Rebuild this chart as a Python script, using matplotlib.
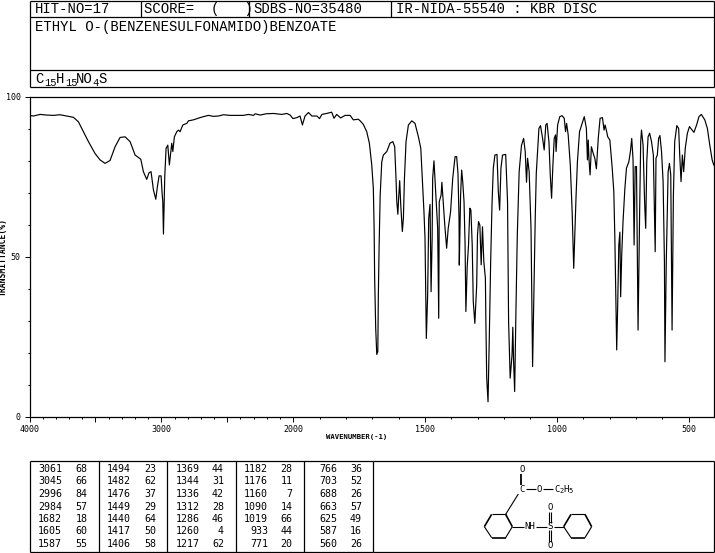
import numpy as np
import matplotlib
matplotlib.use('Agg')
import matplotlib.pyplot as plt
from matplotlib.ticker import FixedLocator

# spectrum
wavenumber = [4000, 3971, 3920, 3870, 3819, 3769, 3718, 3667, 3629, 3591, 3553, 3503, 3465, 3427, 3389, 3351,
              3313, 3275, 3237, 3199, 3156, 3136, 3111, 3093, 3078, 3060, 3042, 3030, 3017, 3002, 2994, 2989,
              2984, 2979, 2974, 2964, 2951, 2939, 2921, 2913, 2901, 2883, 2870, 2858, 2837, 2807, 2794, 2757,
              2706, 2681, 2643, 2605, 2567, 2529, 2478, 2377, 2339, 2301, 2288, 2250, 2205, 2149, 2086, 2048,
              2023, 2002, 1986, 1974, 1965, 1955, 1942, 1929, 1910, 1900, 1891, 1873, 1854, 1845, 1835, 1820,
              1803, 1784, 1772, 1753, 1746, 1734, 1721, 1711, 1702, 1696, 1693, 1691, 1687, 1683, 1679, 1677,
              1674, 1670, 1664, 1658, 1645, 1633, 1622, 1615, 1610, 1607, 1603, 1600, 1596, 1592, 1586, 1582,
              1578, 1572, 1563, 1550, 1538, 1525, 1516, 1509, 1504, 1500, 1497, 1495, 1490, 1486, 1481, 1477,
              1473, 1471, 1466, 1461, 1456, 1452, 1448, 1446, 1439, 1436, 1431, 1425, 1418, 1412, 1403, 1395,
              1386, 1380, 1375, 1371, 1370, 1365, 1361, 1357, 1352, 1348, 1345, 1340, 1335, 1330, 1326, 1321,
              1317, 1311, 1304, 1301, 1297, 1292, 1287, 1282, 1277, 1271, 1269, 1266, 1261, 1256, 1251, 1246,
              1241, 1235, 1227, 1222, 1217, 1212, 1206, 1194, 1187, 1183, 1177, 1170, 1167, 1164, 1160, 1155,
              1150, 1143, 1134, 1126, 1120, 1115, 1111, 1105, 1098, 1092, 1087, 1082, 1078, 1068, 1062, 1054,
              1048, 1042, 1037, 1030, 1025, 1020, 1015, 1010, 1005, 1003, 997, 989, 980, 972, 967, 963,
              957, 949, 942, 938, 936, 932, 927, 922, 914, 896, 888, 884, 881, 878, 874, 869,
              862, 856, 850, 843, 836, 827, 821, 817, 811, 807, 799, 790, 784, 780, 776, 773,
              769, 765, 761, 758, 754, 749, 742, 736, 727, 721, 716, 711, 707, 703, 698, 692,
              686, 682, 679, 673, 667, 663, 659, 654, 648, 641, 634, 627, 624, 619, 614, 609,
              603, 597, 592, 590, 585, 578, 573, 568, 563, 558, 553, 545, 538, 534, 529, 524,
              519, 513, 505, 497, 487, 480, 470, 461, 452, 439, 429, 420, 411, 405]
transmittance = [94.1, 93.9, 94.4, 94.2, 94.1, 94.3, 93.9, 93.5, 92.1, 89.0, 85.9, 82.2, 80.2, 79.1, 80.0, 84.3,
                 87.2, 87.4, 85.9, 81.7, 80.4, 76.5, 74.1, 76.2, 76.5, 70.8, 67.9, 71.8, 75.2, 75.2, 69.7, 67.1,
                 57.0, 66.1, 75.0, 83.8, 84.8, 78.6, 85.4, 82.8, 87.4, 89.0, 89.5, 89.0, 91.1, 91.6, 92.4, 92.7,
                 93.4, 93.7, 94.1, 93.8, 93.9, 94.3, 94.1, 94.1, 94.4, 94.1, 94.6, 94.2, 94.6, 94.7, 94.4, 94.7,
                 94.2, 93.1, 93.4, 93.9, 91.1, 93.9, 95.0, 93.9, 93.9, 93.1, 94.4, 94.7, 95.1, 93.2, 94.4, 93.3,
                 94.1, 94.1, 92.7, 92.9, 92.4, 91.3, 89.0, 85.4, 78.6, 71.3, 58.8, 43.2, 27.6, 19.4, 20.3, 38.0,
                 53.6, 69.2, 79.6, 81.7, 82.8, 85.4, 85.9, 84.3, 74.4, 67.1, 63.2, 68.2, 73.7, 66.1, 57.8, 61.9,
                 74.4, 85.9, 91.1, 92.4, 91.6, 87.4, 83.8, 72.4, 64.0, 55.7, 38.0, 24.4, 38.0, 61.9, 66.3, 39.0,
                 55.7, 74.4, 79.9, 72.4, 65.1, 58.8, 30.7, 67.1, 69.2, 73.2, 67.1, 59.8, 52.6, 58.8, 64.0, 74.4,
                 81.2, 81.2, 76.0, 61.9, 47.3, 69.2, 77.0, 73.4, 67.1, 53.6, 32.8, 46.8, 53.6, 65.1, 64.5, 53.6,
                 35.9, 29.1, 41.1, 56.7, 60.9, 59.8, 47.4, 59.3, 48.4, 43.2, 28.6, 12.0, 4.6, 25.5, 48.4, 66.1,
                 77.6, 81.7, 81.9, 70.3, 64.5, 77.6, 81.7, 81.9, 67.1, 29.6, 12.0, 19.2, 27.9, 17.1, 7.8, 33.8,
                 56.7, 76.5, 84.8, 86.9, 82.8, 73.2, 80.7, 76.5, 58.8, 15.6, 38.0, 62.0, 76.0, 90.0, 90.9, 86.9,
                 83.3, 91.1, 91.6, 85.9, 75.5, 68.2, 78.6, 86.9, 88.0, 82.8, 91.1, 93.7, 94.0, 93.2, 89.0, 91.6,
                 88.0, 78.6, 64.0, 51.5, 46.3, 56.7, 69.2, 79.6, 89.0, 93.7, 90.0, 80.2, 86.4, 80.2, 75.5, 84.3,
                 82.2, 80.7, 77.4, 86.9, 93.2, 93.4, 89.5, 91.1, 89.0, 87.4, 86.4, 77.6, 70.3, 55.7, 35.9, 20.8,
                 35.9, 53.6, 57.6, 37.4, 50.5, 60.9, 71.3, 77.6, 79.6, 82.8, 86.9, 80.2, 53.6, 78.1, 78.1, 27.0,
                 64.0, 85.9, 89.5, 84.8, 66.6, 58.8, 79.6, 87.4, 88.5, 85.9, 81.7, 51.5, 80.7, 81.7, 86.9, 87.8,
                 82.8, 73.4, 48.4, 17.1, 48.4, 76.5, 79.1, 75.5, 27.0, 69.2, 85.9, 90.9, 90.0, 81.7, 73.4, 81.7,
                 76.5, 83.8, 88.5, 90.6, 89.5, 88.8, 91.1, 93.7, 94.4, 92.7, 90.0, 84.8, 80.2, 78.6]

# peak table, one list per column
peak_wn = [[3061, 3045, 2996, 2984, 1682, 1605, 1587],
           [1494, 1482, 1476, 1449, 1440, 1417, 1406],
           [1369, 1344, 1336, 1312, 1286, 1260, 1217],
           [1182, 1176, 1160, 1090, 1019, 933, 771],
           [766, 703, 688, 663, 625, 587, 560]]
peak_t = [[68, 66, 84, 57, 18, 60, 55],
          [23, 62, 37, 29, 64, 50, 58],
          [44, 31, 42, 28, 46, 4, 62],
          [28, 11, 7, 14, 66, 44, 20],
          [36, 52, 26, 57, 49, 16, 26]]

x_major = [4000, 3500, 3000, 2500, 2000, 1500, 1000, 500]
x_labels = ['4000', '', '3000', '', '2000', '1500', '1000', '500']
x_minor = list(range(400, 4001, 100))
y_major = [0, 50, 100]
y_minor = list(range(0, 101, 10))

W, H = 715, 553
MONO = 'DejaVu Sans Mono'
HEAD_FONT = 'Liberation Mono'

fig = plt.figure(figsize=(W / 100, H / 100), dpi=100)

# page axes in pixels, for the frames and the text round the spectrum
page = fig.add_axes([0, 0, 1, 1])
page.set_xlim(0, W)
page.set_ylim(H, 0)
page.axis('off')


def hline(y, x0=29.5, x1=714.0, lw=0.9):
    page.plot([x0, x1], [y, y], color='black', lw=lw, solid_capstyle='butt')


def vline(x, y0, y1, lw=0.9):
    page.plot([x, x], [y0, y1], color='black', lw=lw, solid_capstyle='butt')


# header boxes
for y in [0.5, 17.0, 69.5, 87.0]:
    hline(y)
vline(29.5, 0.5, 87)
vline(714, 0.5, 87)
for x in [140.5, 248.5, 390.5]:
    vline(x, 0.5, 17)

head = dict(family=HEAD_FONT, fontsize=10, va='center', ha='left', color='black')
page.text(35, 9, 'HIT-NO=17', **head)
page.text(144, 9, 'SCORE=  (   )', **head)
page.text(253, 9, 'SDBS-NO=35480', **head)
page.text(396, 9, 'IR-NIDA-55540 : KBR DISC', **head)
page.text(35, 27, 'ETHYL O-(BENZENESULFONAMIDO)BENZOATE', **head)

# formula, subscripts placed by hand
for piece, x, sub in [('C', 35, 0), ('15', 44.5, 1), ('H', 56, 0), ('15', 65, 1),
                      ('NO', 76, 0), ('4', 92, 1), ('S', 98, 0)]:
    if sub:
        page.text(x, 83, piece, family=HEAD_FONT, fontsize=7.5, va='center', ha='left')
    else:
        page.text(x, 79, piece, **head)

# axis names
page.text(3.5, 257, 'TRANSMITTANCE(%)', family=MONO, fontsize=5.8, rotation=90,
          va='center', ha='center', fontweight='bold')
page.text(357, 437, 'WAVENUMBER(-1)', family=MONO, fontsize=5.2, va='center', ha='center',
          fontweight='bold')

# peak table
hline(460.5, 29.5, 372.5)
hline(552, 29.5, 372.5)
for x in [29.5, 98.5, 166.5, 235.5, 303.5, 372.5]:
    vline(x, 460.5, 552)
wn_right = [62, 131, 199.5, 268, 337]
t_right = [87.5, 156, 224, 292.5, 362]
row_y = [469, 481.4, 494, 506.6, 519, 531.4, 543.8]
for c in range(5):
    for r in range(7):
        page.text(wn_right[c], row_y[r], str(peak_wn[c][r]), family=MONO, fontsize=7.2,
                  ha='right', va='center')
        page.text(t_right[c], row_y[r], str(peak_t[c][r]), family=MONO, fontsize=7.2,
                  ha='right', va='center')

# structure box
hline(460.5, 372.5, 714)
hline(552, 372.5, 714)
vline(714, 460.5, 552)


def sx(v):
    return 370 + v / 3


def sy(v):
    return 400 + v / 3


def bond(x0, y0, x1, y1, lw=0.8):
    page.plot([sx(x0), sx(x1)], [sy(y0), sy(y1)], color='black', lw=lw, solid_capstyle='butt')


def atom(x, y, s, size=6.5):
    page.text(sx(x), sy(y), s, family=MONO, fontsize=size, ha='center', va='center')


atom(457, 208, 'O')
bond(454, 222, 454, 255, 1.3)
atom(457, 267, 'C')
bond(468, 267, 498, 267)
atom(508, 267, 'O')
bond(518, 267, 550, 267)
atom(562, 267, 'C')
atom(574, 272, '2', 5)
atom(588, 267, 'H')
atom(601, 272, '5', 5)
bond(445, 282, 407, 343)
for dx in [0, 238]:
    ring = [(343, 380), (365, 343), (407, 343), (427, 380), (407, 413), (365, 413), (343, 380)]
    for i in range(6):
        thick = i in (0, 2, 4)
        bond(ring[i][0] + dx, ring[i][1], ring[i + 1][0] + dx, ring[i + 1][1], 1.2 if thick else 0.8)
bond(427, 380, 462, 380)
atom(480, 380, 'NH')
bond(497, 380, 530, 380)
atom(541, 380, 'S')
bond(552, 380, 582, 380)
atom(541, 322, 'O')
atom(541, 436, 'O')
for xb in [536, 544]:
    bond(xb, 335, xb, 369)
    bond(xb, 391, xb, 425)

# spectrum axes, 2000-4000 is drawn at half the scale of the rest
ax = fig.add_axes([29.5 / W, (H - 416.5) / H, (714 - 29.5) / W, 320 / H])
ax.patch.set_alpha(0)


def squeeze(w):
    w = np.asarray(w, dtype=float)
    return np.where(w >= 2000, 2000 + (w - 2000) / 2, w)


def unsqueeze(v):
    v = np.asarray(v, dtype=float)
    return np.where(v >= 2000, 2000 + (v - 2000) * 2, v)


ax.set_xscale('function', functions=(squeeze, unsqueeze))
ax.plot(wavenumber, transmittance, color='black', lw=0.85)
ax.set_xlim(4000, 404)
ax.set_ylim(0, 100)

ax.xaxis.set_major_locator(FixedLocator(x_major))
ax.xaxis.set_minor_locator(FixedLocator(x_minor))
ax.yaxis.set_major_locator(FixedLocator(y_major))
ax.yaxis.set_minor_locator(FixedLocator(y_minor))
ax.set_xticklabels(x_labels)
ax.set_yticklabels([str(v) for v in y_major])
ax.xaxis.set_minor_formatter(plt.NullFormatter())
ax.yaxis.set_minor_formatter(plt.NullFormatter())
ax.tick_params(which='major', length=3.8, width=0.7, labelsize=6, pad=2.5)
ax.tick_params(which='minor', length=1.6, width=0.7)
for lab in ax.get_xticklabels() + ax.get_yticklabels():
    lab.set_family(MONO)
for s in ax.spines.values():
    s.set_linewidth(0.9)

fig.savefig('out.png', dpi=100)
